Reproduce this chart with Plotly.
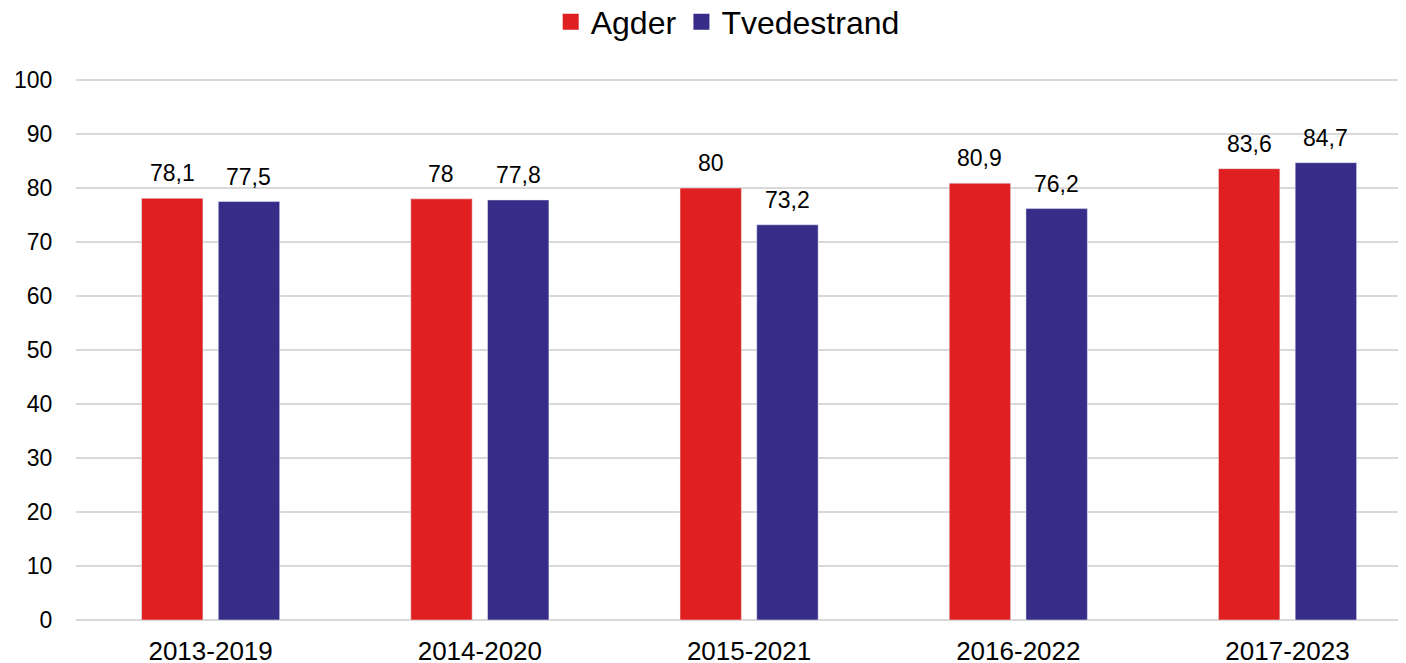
import plotly.graph_objects as go

categories = ["2013-2019", "2014-2020", "2015-2021", "2016-2022", "2017-2023"]
agder = [78.1, 78, 80, 80.9, 83.6]
tvedestrand = [77.5, 77.8, 73.2, 76.2, 84.7]
y_ticks = [0, 10, 20, 30, 40, 50, 60, 70, 80, 90, 100]

RED = "#E02020"
BLUE = "#372C87"
BARGAP = 0.43
GROUPGAP = 0.2

def fmt(v):
    s = ("%.1f" % v).rstrip("0").rstrip(".")
    return s.replace(".", ",")

fig = go.Figure()
series = [("Agder", agder, RED), ("Tvedestrand", tvedestrand, BLUE)]
for name, vals, col in series:
    fig.add_trace(go.Bar(x=list(range(len(categories))), y=vals, name=name, marker_color=col,
                         showlegend=False))
# legend entries
for name, vals, col in series:
    fig.add_trace(go.Scatter(x=[None], y=[None], mode="markers", name=name,
                             marker=dict(symbol="square", size=18, color=col)))

# value labels placed at bar centres computed from the grouping geometry
slot = (1 - BARGAP) / len(series)
annotations = []
for k, (name, vals, col) in enumerate(series):
    off = (k - (len(series) - 1) / 2) * slot
    for i, v in enumerate(vals):
        annotations.append(dict(x=i + off, y=v, xref="x", yref="y", text=fmt(v),
                                showarrow=False, yanchor="bottom", yshift=10,
                                font=dict(size=23, color="#000000")))

fig.update_layout(
    width=1406, height=663,
    margin=dict(l=68, r=8, t=71, b=51),
    paper_bgcolor="white", plot_bgcolor="white",
    font=dict(family="Liberation Sans, Arial, sans-serif", color="#000000"),
    barmode="group", bargap=BARGAP, bargroupgap=GROUPGAP,
    legend=dict(orientation="h", x=0.49, xanchor="center", y=0.979, yref="container",
                yanchor="middle", font=dict(size=32), traceorder="normal", itemsizing="trace"),
    annotations=annotations,
    xaxis=dict(range=[-0.5, 4.44], tickvals=list(range(len(categories))), ticktext=categories,
               tickfont=dict(size=26), showgrid=False, ticks="outside", ticklen=8,
               tickcolor="rgba(0,0,0,0)", showline=False, zeroline=False, automargin=False),
    yaxis=dict(range=[0, 100.2], tickvals=y_ticks, tickfont=dict(size=23), showgrid=True,
               gridcolor="#D9D9D9", gridwidth=2, zeroline=True, zerolinecolor="#D9D9D9",
               zerolinewidth=2, ticks="outside", ticklen=18, tickcolor="rgba(0,0,0,0)",
               showline=False, automargin=False),
)
fig.write_html("out.html")
